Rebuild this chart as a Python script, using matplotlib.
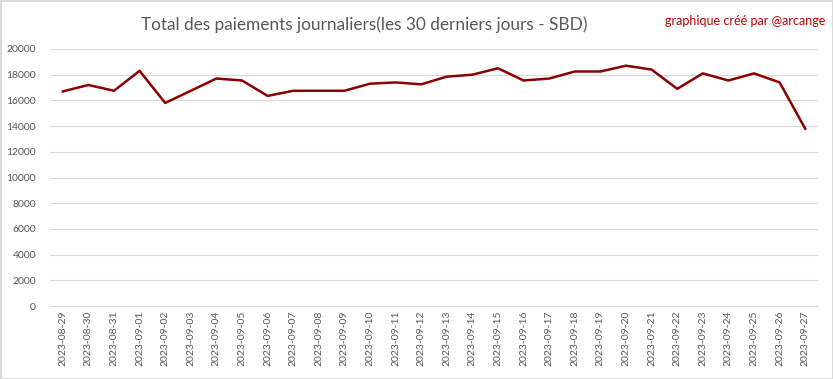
import matplotlib.pyplot as plt

dates = ["2023-08-29", "2023-08-30", "2023-08-31", "2023-09-01", "2023-09-02",
         "2023-09-03", "2023-09-04", "2023-09-05", "2023-09-06", "2023-09-07",
         "2023-09-08", "2023-09-09", "2023-09-10", "2023-09-11", "2023-09-12",
         "2023-09-13", "2023-09-14", "2023-09-15", "2023-09-16", "2023-09-17",
         "2023-09-18", "2023-09-19", "2023-09-20", "2023-09-21", "2023-09-22",
         "2023-09-23", "2023-09-24", "2023-09-25", "2023-09-26", "2023-09-27"]
paiements = [16700, 17200, 16750, 18300, 15800, 16750, 17700, 17550, 16350, 16750,
             16750, 16750, 17300, 17400, 17250, 17850, 18000, 18500, 17550, 17700,
             18250, 18250, 18700, 18400, 16900, 18100, 17550, 18100, 17400, 13800]
y_ticks = list(range(0, 20001, 2000))

plt.rcParams["font.family"] = ["Lato", "DejaVu Sans"]

fig = plt.figure(figsize=(8.33, 3.79), dpi=100)
fig.patch.set_edgecolor("#d9d9d9")
fig.patch.set_linewidth(2)
ax = fig.add_axes([50 / 833, 73 / 379, 768 / 833, 257 / 379])

x = list(range(len(dates)))
ax.plot(x, paiements, color="#8b0000", linewidth=1.8)

ax.set_xlim(-0.5, len(dates) - 0.5)
ax.set_ylim(0, 20000)
ax.set_yticks(y_ticks)
ax.set_xticks(x)
ax.set_xticklabels(dates, rotation=90)
ax.tick_params(axis="both", labelsize=7.5, colors="#595959", length=0)
ax.tick_params(axis="y", pad=10)
ax.grid(axis="y", color="#d9d9d9", linewidth=0.8)
ax.set_axisbelow(True)
for side in ["top", "right", "left"]:
    ax.spines[side].set_visible(False)
ax.spines["bottom"].set_color("#d9d9d9")

fig.text(0.437, 0.935, "Total des paiements journaliers(les 30 derniers jours - SBD)",
         ha="center", va="center", fontsize=12.4, color="#595959")
fig.text(0.991, 0.945, "graphique créé par @arcange", ha="right", va="center",
         fontsize=9, color="#c00000")

fig.savefig("out.png", dpi=100)
